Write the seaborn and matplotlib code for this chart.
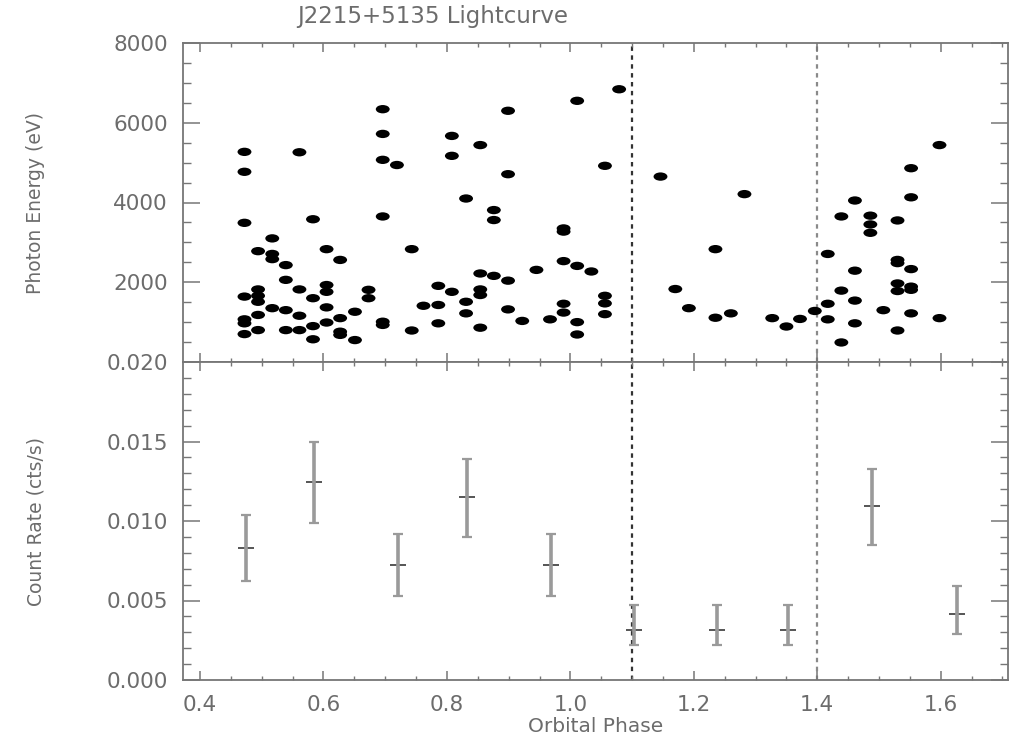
import matplotlib
matplotlib.use("Agg")

import matplotlib.pyplot as plt
import numpy as np
import pandas as pd
import seaborn as sns
from matplotlib.path import Path
from matplotlib.ticker import FormatStrFormatter, MultipleLocator

# ── Data ──────────────────────────────────────────────────────────────────────
photon_phase = (
    [0.472] * 7 + [0.494] * 6 + [0.517] * 4 + [0.539] * 4 + [0.561] * 4
    + [0.583] * 4 + [0.605] * 5 + [0.627] * 4 + [0.651] * 2 + [0.673] * 2
    + [0.696] * 6 + [0.719] + [0.743] * 2 + [0.762] + [0.786] * 3
    + [0.808] * 3 + [0.831] * 3 + [0.854] * 5 + [0.876] * 3 + [0.899] * 4
    + [0.922] + [0.945] + [0.967] + [0.989] * 5 + [1.011] * 4 + [1.034]
    + [1.056] * 4 + [1.079] + [1.146] + [1.170] + [1.192] + [1.235] * 2
    + [1.260] + [1.282] + [1.327] + [1.350] + [1.372] + [1.396]
    + [1.417] * 3 + [1.439] * 3 + [1.461] * 4 + [1.486] * 3 + [1.507]
    + [1.530] * 6 + [1.552] * 6 + [1.598] * 2
)
photon_energy = [
    5270, 4770, 3490, 1640, 1070, 970, 700,
    2780, 1820, 1660, 1510, 1180, 800,
    3100, 2710, 2580, 1350,
    2430, 2060, 1300, 800,
    5260, 1820, 1160, 800,
    3580, 1600, 900, 570,
    2830, 1930, 1760, 1370, 990,
    2560, 1100, 760, 680,
    1260, 550,
    1810, 1600,
    6340, 5720, 5070, 3650, 1010, 930,
    4940,
    2830, 790,
    1410,
    1910, 1430, 970,
    5670, 5170, 1760,
    4100, 1510, 1220,
    5440, 2220, 1820, 1680, 860,
    3810, 3560, 2160,
    6300, 4710, 2040, 1320,
    1030,
    2310,
    1070,
    3350, 3270, 2530, 1460, 1240,
    6550, 2410, 1000, 690,
    2270,
    4920, 1660, 1470, 1200,
    6840,
    4650,
    1830,
    1350,
    2830, 1110,
    1220,
    4210,
    1100,
    890,
    1080,
    1280,
    2710, 1460, 1070,
    3650, 1790, 490,
    4050, 2290, 1540, 970,
    3670, 3450, 3240,
    1300,
    3550, 2560, 2480, 1970, 1780, 790,
    4860, 4130, 2330, 1890, 1810, 1220,
    5440, 1100,
]

rate_phase = [0.474, 0.584, 0.721, 0.832, 0.968, 1.103, 1.238, 1.353, 1.488, 1.626]
rate = [0.0083, 0.01246, 0.00725, 0.01152, 0.00725, 0.00315, 0.00315, 0.00315, 0.01094, 0.00417]
rate_low = [0.0062, 0.0099, 0.0053, 0.0090, 0.0053, 0.0022, 0.0022, 0.0022, 0.0085, 0.0029]
rate_high = [0.0104, 0.0150, 0.0092, 0.0139, 0.0092, 0.0047, 0.0047, 0.0047, 0.0133, 0.0059]

eclipse_phase = [1.1, 1.4]
eclipse_color = ["#333333", "#8a8a8a"]

photons = pd.DataFrame({"phase": photon_phase, "energy": photon_energy})
rates = pd.DataFrame({"phase": rate_phase, "rate": rate})

# ── Style ─────────────────────────────────────────────────────────────────────
sns.set_theme(style="ticks")
GREY = "#767676"
TEXT = "#6c6c6c"
plt.rcParams["font.family"] = ["DejaVu Sans"]
plt.rcParams.update({
    "axes.edgecolor": GREY,
    "axes.linewidth": 1.3,
    "xtick.color": GREY,
    "ytick.color": GREY,
    "xtick.labelcolor": TEXT,
    "ytick.labelcolor": TEXT,
    "axes.labelcolor": TEXT,
})

fig = plt.figure(figsize=(10.09, 7.37), dpi=100)
left, right = 183 / 1009, 1008 / 1009
y_top, y_mid, y_bot = 1 - 43 / 737, 1 - 362 / 737, 1 - 680 / 737
ax_top = fig.add_axes([left, y_mid, right - left, y_top - y_mid])
ax_bot = fig.add_axes([left, y_bot, right - left, y_mid - y_bot], sharex=ax_top)

# squashed ellipse marker, like the blobby IDL dots
circle = Path.unit_circle()
ellipse = Path(circle.vertices * np.array([1.0, 0.6]), circle.codes)

sns.scatterplot(data=photons, x="phase", y="energy", ax=ax_top,
                marker=ellipse, s=100, color="black", edgecolor="none",
                linewidth=0, legend=False)

yerr = [np.array(rate) - np.array(rate_low), np.array(rate_high) - np.array(rate)]
ax_bot.errorbar(rate_phase, rate, yerr=yerr, fmt="none", ecolor="#9a9a9a",
                elinewidth=2.6, capsize=3.5, capthick=1.6)
sns.scatterplot(data=rates, x="phase", y="rate", ax=ax_bot, marker="_",
                s=120, color="#555555", linewidth=1.4, legend=False)

for ax in (ax_top, ax_bot):
    for ph, col in zip(eclipse_phase, eclipse_color):
        ax.axvline(ph, color=col, linestyle=(0, (2.0, 2.0)), linewidth=1.6, zorder=0)

# ── Axes ──────────────────────────────────────────────────────────────────────
ax_top.set_xlim(0.3724, 1.709)
ax_top.set_ylim(0, 8000)
ax_bot.set_ylim(0, 0.020)

ax_top.yaxis.set_minor_locator(MultipleLocator(500))
ax_top.set_yticks([2000, 4000, 6000, 8000])
ax_bot.yaxis.set_major_locator(MultipleLocator(0.005))
ax_bot.yaxis.set_minor_locator(MultipleLocator(0.001))
ax_bot.yaxis.set_major_formatter(FormatStrFormatter("%.3f"))
ax_bot.xaxis.set_major_locator(MultipleLocator(0.2))
ax_bot.xaxis.set_minor_locator(MultipleLocator(0.05))
ax_bot.xaxis.set_major_formatter(FormatStrFormatter("%.1f"))

for ax in (ax_top, ax_bot):
    ax.tick_params(axis="x", which="major", direction="in", length=6.5, width=1.1,
                   top=True, bottom=True, labelsize=15.5, pad=11)
    ax.tick_params(axis="x", which="minor", direction="in", length=3.2, width=1.0,
                   top=True, bottom=True)
    ax.tick_params(axis="y", which="major", direction="in", length=12, width=1.1,
                   left=True, right=True, labelsize=15.5, pad=11)
    ax.tick_params(axis="y", which="minor", direction="in", length=6, width=1.0,
                   left=True, right=True)
    sns.despine(ax=ax, top=False, right=False)

ax_top.tick_params(axis="x", labelbottom=False)
ax_top.set_xlabel("")

ax_top.set_ylabel("Photon Energy (eV)", fontsize=13.5)
ax_bot.set_ylabel("Count Rate (cts/s)", fontsize=13.5)
ax_bot.set_xlabel("Orbital Phase", fontsize=14.5, labelpad=1)
for ax in (ax_top, ax_bot):
    ax.yaxis.set_label_coords(-0.167, 0.5)

fig.text(433 / 1009, 1 - 16 / 737, "J2215+5135 Lightcurve", ha="center", va="center",
         fontsize=16.5, color=TEXT)

fig.savefig("out.png", dpi=100)
